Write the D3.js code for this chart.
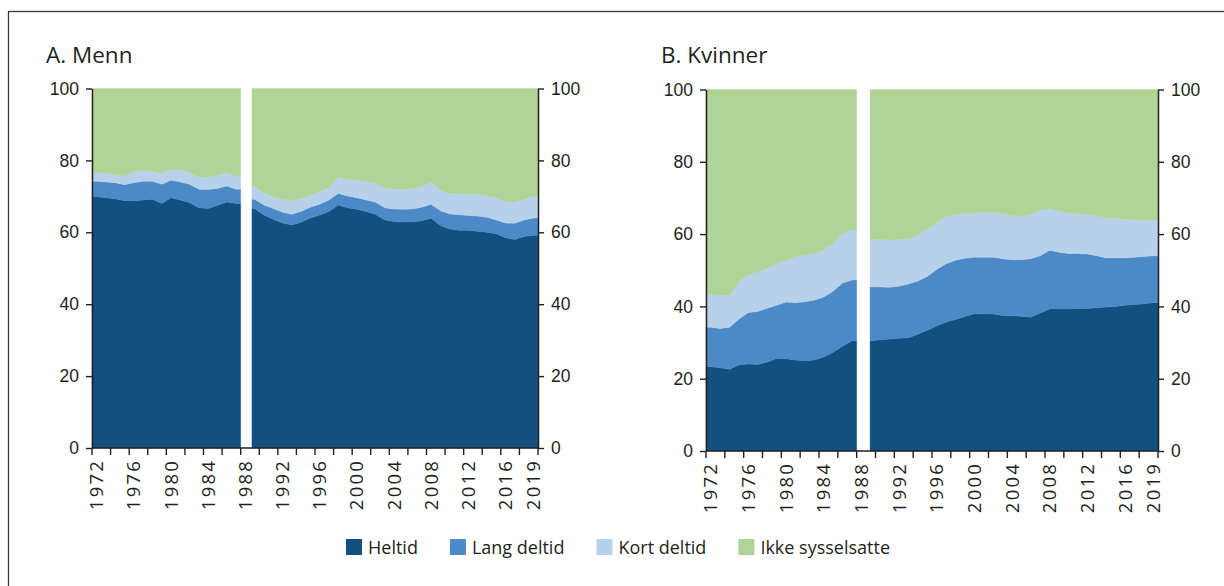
<!DOCTYPE html>
<html>
<head>
<meta charset="utf-8">
<script src="https://cdn.jsdelivr.net/npm/d3@7"></script>
<style>
  body { margin: 0; background: #fff; }
  svg { display: block; font-family: "Open Sans", sans-serif; }
  .tick text { fill: #231f20; }
</style>
</head>
<body>
<svg id="chart" width="1224" height="586"></svg>
<script>
// År 1972–2019, 1988 er brudd i serien (null)
const years = [1972, 1973, 1974, 1975, 1976, 1977, 1978, 1979, 1980, 1981, 1982, 1983,
  1984, 1985, 1986, 1987, 1988, 1989, 1990, 1991, 1992, 1993, 1994, 1995, 1996, 1997,
  1998, 1999, 2000, 2001, 2002, 2003, 2004, 2005, 2006, 2007, 2008, 2009, 2010, 2011,
  2012, 2013, 2014, 2015, 2016, 2017, 2018, 2019];
const yearLabels = [1972, 1976, 1980, 1984, 1988, 1992, 1996, 2000, 2004, 2008, 2012, 2016, 2019];
const yTicks = [0, 20, 40, 60, 80, 100];

const keys = ["heltid", "lang", "kort", "ikke"];
const keyLabels = ["Heltid", "Lang deltid", "Kort deltid", "Ikke sysselsatte"];
const colors = ["#14507f", "#4c89c7", "#b8d1ea", "#b0d496"];

// Menn, andel i prosent
const mennHeltid = [69.9, 69.6, 69.3, 68.8, 68.8, 69.0, 69.2, 68.0, 69.6, 69.0, 68.3, 66.8, 66.6, 67.5, 68.4, 68.0,
  null,
  66.6, 64.8, 63.6, 62.6, 62.0, 62.8, 64.0, 64.8, 65.8, 67.6, 66.8, 66.4, 65.8, 65.0, 63.4, 63.0,
  62.9, 62.9, 63.2, 63.9, 61.9, 60.9, 60.6, 60.6, 60.3, 60.0, 59.6, 58.5, 58.0, 58.8, 59.2];
const mennLang = [4.3, 4.4, 4.5, 4.4, 5.0, 5.2, 5.0, 5.4, 4.9, 5.0, 5.1, 5.2, 5.3, 4.7, 4.5, 4.0,
  null,
  2.6, 2.8, 3.0, 3.0, 3.0, 3.0, 3.0, 3.0, 3.2, 3.2, 3.3, 3.2, 3.2, 3.4, 3.4, 3.5,
  3.5, 3.6, 3.8, 3.9, 4.1, 4.2, 4.3, 4.1, 4.2, 4.2, 3.8, 4.1, 4.5, 4.6, 4.8];
const mennKort = [2.4, 2.4, 2.2, 2.4, 3.1, 3.0, 2.8, 3.0, 3.1, 3.3, 3.4, 3.4, 3.4, 3.7, 3.7, 3.5,
  null,
  3.6, 3.4, 3.2, 3.6, 3.8, 3.6, 3.4, 3.6, 3.4, 4.5, 4.7, 4.9, 5.1, 5.2, 5.6, 5.5,
  5.5, 5.6, 5.8, 6.1, 5.8, 5.7, 5.9, 6.0, 6.0, 6.0, 6.2, 6.0, 5.9, 5.8, 6.1];
const mennIkke = [23.4, 23.6, 24.0, 24.4, 23.1, 22.8, 23.0, 23.6, 22.4, 22.7, 23.2, 24.6, 24.7, 24.1, 23.4, 24.5,
  null,
  27.2, 29.0, 30.2, 30.8, 31.2, 30.6, 29.6, 28.6, 27.6, 24.7, 25.2, 25.5, 25.9, 26.4, 27.6, 28.0,
  28.1, 27.9, 27.2, 26.1, 28.2, 29.2, 29.2, 29.3, 29.5, 29.8, 30.4, 31.4, 31.6, 30.8, 29.9];

// Kvinner, andel i prosent
const kvinnerHeltid = [23.3, 23.0, 22.6, 23.8, 24.1, 23.9, 24.6, 25.6, 25.5, 25.2, 25.0, 25.2, 26.0, 27.3, 29.0, 30.5,
  null,
  30.5, 30.8, 31.0, 31.2, 31.3, 32.3, 33.4, 34.6, 35.7, 36.4, 37.2, 38.0, 37.9, 37.9, 37.5, 37.4,
  37.3, 37.0, 38.2, 39.3, 39.3, 39.3, 39.4, 39.4, 39.6, 39.8, 40.0, 40.3, 40.5, 40.7, 41.0];
const kvinnerLang = [10.9, 10.9, 11.6, 12.7, 14.2, 14.7, 14.9, 14.7, 15.7, 15.8, 16.3, 16.5, 16.6, 16.9, 17.5, 16.8,
  null,
  14.9, 14.6, 14.3, 14.4, 14.9, 14.7, 14.9, 15.6, 16.1, 16.4, 16.1, 15.6, 15.7, 15.7, 15.7, 15.5,
  15.6, 16.2, 15.8, 16.2, 15.7, 15.3, 15.2, 15.1, 14.4, 13.6, 13.4, 13.1, 13.1, 13.1, 13.0];
const kvinnerKort = [9.0, 9.2, 8.8, 10.3, 10.5, 10.9, 11.1, 11.4, 11.5, 12.8, 12.8, 12.9, 12.9, 13.3, 13.7, 13.8,
  null,
  13.2, 13.1, 13.1, 12.9, 12.4, 12.8, 13.1, 13.0, 13.1, 12.6, 12.4, 12.3, 12.5, 12.5, 12.4, 12.3,
  12.0, 12.2, 12.6, 11.6, 11.4, 11.2, 11.0, 11.0, 11.0, 11.1, 10.9, 10.7, 10.4, 10.0, 9.9];
const kvinnerIkke = [56.8, 56.9, 57.0, 53.2, 51.2, 50.5, 49.4, 48.3, 47.3, 46.2, 45.9, 45.4, 44.5, 42.5, 39.8, 38.9,
  null,
  41.4, 41.5, 41.6, 41.5, 41.4, 40.2, 38.6, 36.8, 35.1, 34.6, 34.3, 34.1, 33.9, 33.9, 34.4, 34.8,
  35.1, 34.6, 33.4, 32.9, 33.6, 34.2, 34.4, 34.5, 35.0, 35.5, 35.7, 35.9, 36.0, 36.2, 36.1];

// Oppsett for de to panelene (kun plassering)
const panels = [
  { title: "A. Menn", tx: 46, left: 92, right: 538, top: 88.5, bottom: 448, gapPad: 2,
    series: [mennHeltid, mennLang, mennKort, mennIkke] },
  { title: "B. Kvinner", tx: 661, left: 706, right: 1158, top: 89.5, bottom: 451, gapPad: 4,
    series: [kvinnerHeltid, kvinnerLang, kvinnerKort, kvinnerIkke] }
];

var svg = d3.select("#chart");

// ramme rundt figuren
svg.append("rect")
  .attr("x", 8.5).attr("y", 11.5)
  .attr("width", 1240).attr("height", 600)
  .attr("fill", "none")
  .attr("stroke", "#3a3a3a")
  .attr("stroke-width", 1.3);

var stack = d3.stack().keys(keys);

function drawPanel(p) {
  let g = svg.append("g");

  // tabell med en rad per år
  let rows = years.map(function(yr, i) {
    let r = { year: yr };
    keys.forEach(function(k, j) { r[k] = p.series[j][i]; });
    return r;
  });

  let x = d3.scaleBand().domain(years).range([p.left, p.right]);
  let bw = x.bandwidth();
  let y = d3.scaleLinear().domain([0, 100]).range([p.bottom, p.top]);

  // del opp i sammenhengende segmenter (brudd der verdien er null)
  let segments = [];
  let cur = [];
  rows.forEach(function(r) {
    if (r.heltid == null) {
      if (cur.length) segments.push(cur);
      cur = [];
    } else cur.push(r);
  });
  if (cur.length) segments.push(cur);

  segments.forEach(function(seg, si) {
    let layers = stack(seg);
    layers.forEach(function(layer, li) {
      // punkt midt i hvert år, pluss forlengelse til kantene av segmentet
      let pts = layer.map(function(d) {
        return { x: x(d.data.year) + bw / 2, y0: d[0], y1: d[1] };
      });
      let first = layer[0], last = layer[layer.length - 1];
      let x0 = x(first.data.year) + (si > 0 ? p.gapPad : 0);
      let x1 = x(last.data.year) + bw;
      pts.unshift({ x: x0, y0: first[0], y1: first[1] });
      pts.push({ x: x1, y0: last[0], y1: last[1] });

      let area = d3.area()
        .x(function(d) { return d.x; })
        .y0(function(d) { return y(d.y0); })
        .y1(function(d) { return y(d.y1); });

      g.append("path")
        .datum(pts)
        .attr("d", area)
        .attr("fill", colors[li])
        .attr("stroke", colors[li])
        .attr("stroke-width", 0.4);
    });
  });

  // y-akser
  let axL = g.append("g")
    .attr("transform", "translate(" + p.left + ",0)")
    .call(d3.axisLeft(y).tickValues(yTicks).tickSize(6).tickPadding(7).tickSizeOuter(0));
  let axR = g.append("g")
    .attr("transform", "translate(" + p.right + ",0)")
    .call(d3.axisRight(y).tickValues(yTicks).tickSize(6).tickPadding(7).tickSizeOuter(0));
  [axL, axR].forEach(function(ax) {
    ax.selectAll("text").style("font-size", "17.5px");
    ax.select(".domain").attr("stroke", "#231f20").attr("stroke-width", 1.5);
    ax.selectAll(".tick line").attr("stroke", "#231f20").attr("stroke-width", 1.4);
  });

  // x-akse: strek, tikk ved partallsår og ytterkant
  g.append("line")
    .attr("x1", p.left).attr("x2", p.right)
    .attr("y1", y(0)).attr("y2", y(0))
    .attr("stroke", "#231f20").attr("stroke-width", 1.5);

  let tickYears = years.filter(function(yr) { return yr % 2 == 0; });
  g.selectAll(".xtick")
    .data(tickYears)
    .enter()
    .append("line")
    .attr("class", "xtick")
    .attr("x1", function(d) { return x(d); })
    .attr("x2", function(d) { return x(d); })
    .attr("y1", y(0)).attr("y2", y(0) + 7)
    .attr("stroke", "#231f20").attr("stroke-width", 1.4);
  g.append("line")
    .attr("x1", p.right).attr("x2", p.right)
    .attr("y1", y(0)).attr("y2", y(0) + 7)
    .attr("stroke", "#231f20").attr("stroke-width", 1.4);

  g.selectAll(".xlab")
    .data(yearLabels)
    .enter()
    .append("text")
    .attr("class", "xlab")
    .attr("transform", function(d) {
      return "translate(" + (x(d) + bw / 2) + "," + (y(0) + 11) + ") rotate(-90)";
    })
    .attr("text-anchor", "end")
    .attr("dy", "0.36em")
    .attr("fill", "#231f20")
    .style("font-size", "18.5px")
    .style("letter-spacing", "2.2px")
    .text(function(d) { return d; });

  // tittel
  g.append("text")
    .attr("x", p.tx).attr("y", 63)
    .attr("fill", "#231f20")
    .style("font-size", "22.5px")
    .text(p.title);
}

panels.forEach(drawPanel);

// tegnforklaring
var legend = svg.append("g").attr("transform", "translate(346,0)");
var lx = 0;
keyLabels.forEach(function(lab, i) {
  legend.append("rect")
    .attr("x", lx).attr("y", 539)
    .attr("width", 16).attr("height", 16)
    .attr("fill", colors[i]);
  let t = legend.append("text")
    .attr("x", lx + 22).attr("y", 554)
    .attr("fill", "#231f20")
    .style("font-size", "18px")
    .text(lab);
  lx += 22 + t.node().getComputedTextLength() + 32;
});
</script>
</body>
</html>
